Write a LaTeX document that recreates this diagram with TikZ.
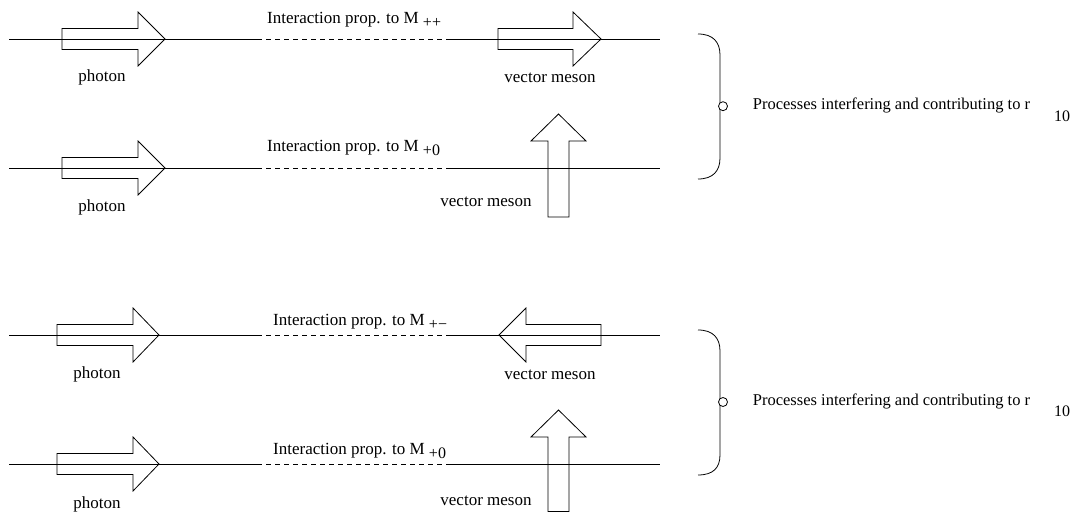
\documentclass[tikz,border=0pt]{standalone}
\usepackage{fontspec}
\setmainfont{Liberation Serif}
\newcommand{\subtx}[1]{\raisebox{-4pt}{\fontsize{16}{18}\selectfont #1}}
\begin{document}
\begin{tikzpicture}[x=1pt,y=-1pt,
  solidline/.style={line width=0.8pt},
  dashline/.style={line width=0.8pt, dash pattern=on 5pt off 4pt},
  fat/.style={line width=0.8pt, line join=miter},
  lbl/.style={inner sep=0pt, font=\fontsize{17}{20}\selectfont},
  note/.style={inner sep=0pt, font=\fontsize{16.5}{20}\selectfont},
  ring/.style={circle, draw, line width=0.8pt, inner sep=0pt, minimum size=9pt}]
\useasboundingbox (0,0) rectangle (1071,513);

% ---------- lines ----------
\foreach \r/\y in {1/39,2/168,3/335,4/464}{
  \coordinate (l\r a) at (9,\y);
  \coordinate (l\r b) at (257,\y);
  \coordinate (l\r c) at (448,\y);
  \coordinate (l\r d) at (660,\y);
  \draw[solidline] (l\r a) -- (l\r b);
  \draw[dashline] (l\r b) -- (l\r c);
  \draw[solidline] (l\r c) -- (l\r d);
}

% ---------- photon arrows ----------
\draw[fat] (62,28.5) -- (138,28.5) -- (138,12) -- (165,39) -- (138,66) -- (138,49.5) -- (62,49.5) -- cycle;
\draw[fat] (62,157.5) -- (138,157.5) -- (138,141) -- (165,168) -- (138,195) -- (138,178.5) -- (62,178.5) -- cycle;
\draw[fat] (57,324.5) -- (133,324.5) -- (133,308) -- (159,335) -- (133,362) -- (133,345.5) -- (57,345.5) -- cycle;
\draw[fat] (57,453.5) -- (133,453.5) -- (133,437) -- (159,464) -- (133,491) -- (133,474.5) -- (57,474.5) -- cycle;

% ---------- vector meson arrows ----------
\draw[fat] (498,28.5) -- (573,28.5) -- (573,12) -- (601,39) -- (573,66) -- (573,49.5) -- (498,49.5) -- cycle;
\draw[fat] (548,217) -- (548,141) -- (531,141) -- (558.5,114) -- (586,141) -- (569,141) -- (569,217) -- cycle;
\draw[fat] (601,324.5) -- (526,324.5) -- (526,308) -- (499,335) -- (526,362) -- (526,345.5) -- (601,345.5) -- cycle;
\draw[fat] (548,511.5) -- (548,437) -- (531,437) -- (558.5,410) -- (586,437) -- (569,437) -- (569,511.5) -- cycle;

% ---------- labels ----------
\node[lbl, anchor=base] (ph1) at (102,82) {photon};
\node[lbl, anchor=base] (ph2) at (102,211.7) {photon};
\node[lbl, anchor=base] (ph3) at (97,378) {photon};
\node[lbl, anchor=base] (ph4) at (97,508) {photon};
\node[lbl, anchor=base] (vm1) at (550,83) {vector meson};
\node[lbl, anchor=base] (vm2) at (486,207) {vector meson};
\node[lbl, anchor=base] (vm3) at (550,379) {vector meson};
\node[lbl, anchor=base] (vm4) at (486,505.5) {vector meson};

\node[lbl, anchor=base west] (ia1) at (267,23.3) {Interaction prop. to M \subtx{++}};
\node[lbl, anchor=base west] (ia2) at (267,151.7) {Interaction prop. to M \subtx{+0}};
\node[lbl, anchor=base west] (ia3) at (273,325) {Interaction prop. to M \subtx{+−}};
\node[lbl, anchor=base west] (ia4) at (273,454.3) {Interaction prop. to M \subtx{+0}};

% ---------- braces ----------
\draw[solidline] (698,34) .. controls (713,34) and (720,42) .. (720,55) -- (720,158) .. controls (720,171) and (713,179) .. (698,179);
\draw[solidline] (698,330) .. controls (713,330) and (720,338) .. (720,351) -- (720,455) .. controls (720,468) and (713,475) .. (698,475);
\node[ring, fill=white] (c1) at (723,106.2) {};
\node[ring, fill=white] (c2) at (723,402) {};

\node[note, anchor=base west] (pr1) at (752.7,109.3) {Processes interfering and contributing to r\hspace{24pt}\raisebox{-12pt}{\fontsize{16}{18}\selectfont 10}};
\node[note, anchor=base west] (pr2) at (752.7,405.5) {Processes interfering and contributing to r\hspace{24pt}\raisebox{-11pt}{\fontsize{16}{18}\selectfont 10}};
\end{tikzpicture}
\end{document}
